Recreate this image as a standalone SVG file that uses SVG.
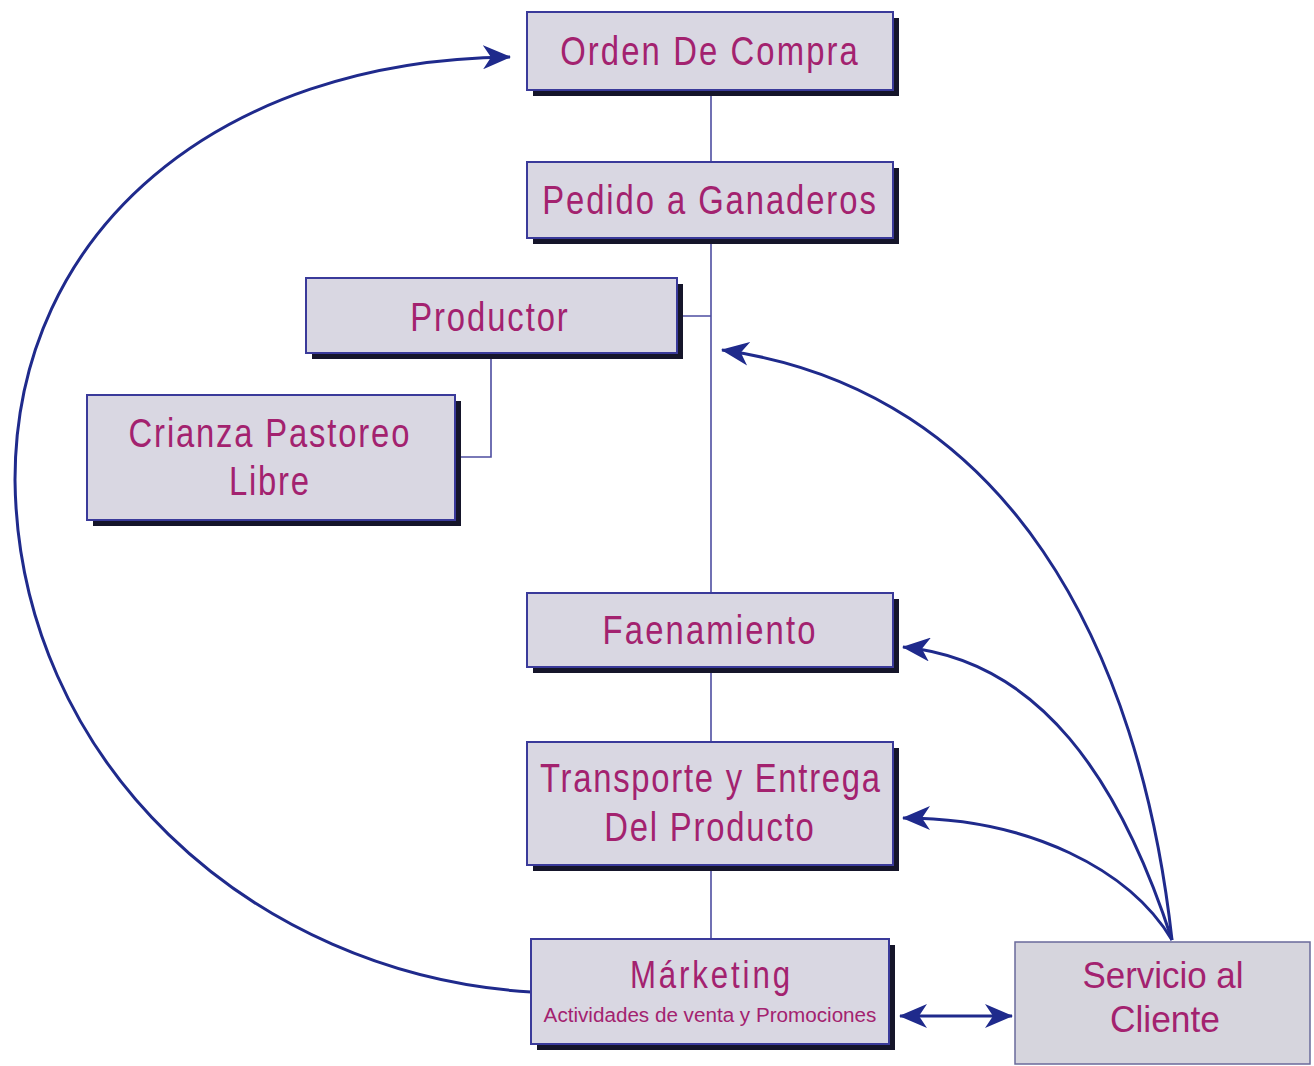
<svg xmlns="http://www.w3.org/2000/svg" width="1314" height="1066" viewBox="0 0 1314 1066">
  <style>
    .shadow { fill: #15152a; }
    .box { fill: #d9d7e2; stroke: #3a3a9a; stroke-width: 2; }
    .box2 { fill: #d6d5dd; stroke: #6a6a9a; stroke-width: 1.5; }
    .lbl { font-family: "Liberation Sans", Arial, sans-serif; fill: #a3226f; text-anchor: middle; }
    .lbl2 { font-family: "Liberation Sans", Arial, sans-serif; fill: #a3226f; text-anchor: middle; }
    .link { fill: none; stroke: #4d4da0; stroke-width: 1.6; }
    .arc { fill: none; stroke: #1f2a8c; stroke-width: 3; }
  </style>
  <defs>
    <marker id="head" markerUnits="userSpaceOnUse" markerWidth="28" markerHeight="24" viewBox="0 0 28 24" refX="27" refY="12" orient="auto-start-reverse">
      <path d="M0,0 L28,12 L0,24 L8,12 Z" fill="#1f2a8c"/>
    </marker>
  </defs>

  <rect width="1314" height="1066" fill="#ffffff"/>

  <!-- tree links -->
  <g id="connectors">
    <path class="link" d="M711,90 V593"/>
    <path class="link" d="M711,667 V742"/>
    <path class="link" d="M711,865 V939"/>
    <path class="link" d="M677,316 H711"/>
    <path class="link" d="M491,353 V457 H460"/>

    <!-- feedback arcs -->
    <path class="arc" marker-end="url(#head)" d="M531,992 C250,975 18,760 15,480 C15,230 220,60 510,57"/>
    <path class="arc" marker-end="url(#head)" d="M1172,940 C1140,650 1010,390 722,350"/>
    <path class="arc" marker-end="url(#head)" d="M1172,940 C1120,780 1040,660 903,647"/>
    <path class="arc" marker-end="url(#head)" d="M1172,940 C1130,870 1030,818 903,818"/>
    <path class="arc" stroke-width="2" marker-start="url(#head)" marker-end="url(#head)" d="M900,1016 H1012"/>
  </g>

  <!-- narrow lettering: glyphs squeezed horizontally, gaps widened to fill -->
  <g id="orden">
    <rect class="shadow" x="533" y="18" width="366" height="78"/>
    <rect class="box" x="527" y="12" width="366" height="78"/>
    <text class="lbl" transform="translate(709,65) scale(0.8,1)" font-size="41" textLength="372" lengthAdjust="spacing">Orden De Compra</text>
  </g>

  <g id="pedido">
    <rect class="shadow" x="533" y="168" width="366" height="76"/>
    <rect class="box" x="527" y="162" width="366" height="76"/>
    <text class="lbl" transform="translate(709,214) scale(0.8,1)" font-size="41" textLength="417" lengthAdjust="spacing">Pedido a Ganaderos</text>
  </g>

  <g id="productor">
    <rect class="shadow" x="312" y="284" width="371" height="75"/>
    <rect class="box" x="306" y="278" width="371" height="75"/>
    <text class="lbl" transform="translate(489,331) scale(0.8,1)" font-size="41" textLength="197" lengthAdjust="spacing">Productor</text>
  </g>

  <g id="crianza">
    <rect class="shadow" x="93" y="401" width="368" height="125"/>
    <rect class="box" x="87" y="395" width="368" height="125"/>
    <text class="lbl" transform="translate(269,447) scale(0.8,1)" font-size="41" textLength="351" lengthAdjust="spacing">Crianza Pastoreo</text>
    <text class="lbl" transform="translate(269,495) scale(0.8,1)" font-size="41" textLength="100" lengthAdjust="spacing">Libre</text>
  </g>

  <g id="faenamiento">
    <rect class="shadow" x="533" y="599" width="366" height="74"/>
    <rect class="box" x="527" y="593" width="366" height="74"/>
    <text class="lbl" transform="translate(709,644) scale(0.8,1)" font-size="41" textLength="266" lengthAdjust="spacing">Faenamiento</text>
  </g>

  <g id="transporte">
    <rect class="shadow" x="533" y="748" width="366" height="123"/>
    <rect class="box" x="527" y="742" width="366" height="123"/>
    <text class="lbl" transform="translate(710,792) scale(0.8,1)" font-size="41" textLength="425" lengthAdjust="spacing">Transporte y Entrega</text>
    <text class="lbl" transform="translate(709,841) scale(0.8,1)" font-size="41" textLength="262" lengthAdjust="spacing">Del Producto</text>
  </g>

  <g id="marketing">
    <rect class="shadow" x="537" y="945" width="358" height="105"/>
    <rect class="box" x="531" y="939" width="358" height="105"/>
    <text class="lbl" transform="translate(710,988) scale(0.8,1)" font-size="39" textLength="200" lengthAdjust="spacing">Márketing</text>
    <text class="lbl" transform="translate(710,1022) scale(0.8,1)" font-size="20" textLength="416" lengthAdjust="spacingAndGlyphs">Actividades de venta y Promociones</text>
  </g>

  <g id="servicio">
    <rect class="box2" x="1015" y="942" width="295" height="122"/>
    <text class="lbl2" x="1163" y="988" font-size="36" textLength="161" lengthAdjust="spacingAndGlyphs">Servicio al</text>
    <text class="lbl2" x="1165" y="1032" font-size="36" textLength="110" lengthAdjust="spacingAndGlyphs">Cliente</text>
  </g>
</svg>
